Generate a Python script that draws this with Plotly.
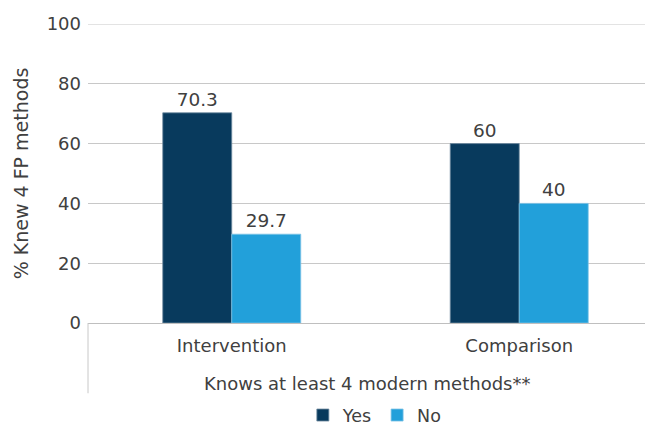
import plotly.graph_objects as go

categories = ["Intervention", "Comparison"]
yes_values = [70.3, 60]
no_values = [29.7, 40]
y_ticks = [0, 20, 40, 60, 80, 100]

text_color = "#404040"
font_family = "DejaVu Sans, Verdana, sans-serif"

fig = go.Figure()
fig.add_trace(go.Bar(
    name="Yes", x=categories, y=yes_values,
    marker=dict(color="#083A5D", line=dict(color="#6F8AA0", width=0.8)),
    text=[f"{v:g}" for v in yes_values], textposition="outside",
    textfont=dict(size=18.5, color=text_color), cliponaxis=False,
))
fig.add_trace(go.Bar(
    name="No", x=categories, y=no_values,
    marker=dict(color="#22A0DA", line=dict(color="#7CC3E6", width=0.8)),
    text=[f"{v:g}" for v in no_values], textposition="outside",
    textfont=dict(size=18.5, color=text_color), cliponaxis=False,
))

fig.update_layout(
    width=652, height=428,
    margin=dict(l=88, r=7, t=24, b=105, autoexpand=False),
    paper_bgcolor="white", plot_bgcolor="white",
    font=dict(family=font_family, color=text_color),
    barmode="group", bargap=0.52, bargroupgap=0,
    showlegend=True,
    legend=dict(orientation="h", x=0.515, xanchor="center", yref="container",
                y=0.03, yanchor="middle", tracegroupgap=0,
                font=dict(size=17.5, color=text_color), itemwidth=30,
                traceorder="normal"),
    xaxis=dict(
        range=[-0.5, 1.4375], showgrid=False, ticks="", automargin=False,
        showline=True, linecolor="#BFBFBF", linewidth=1,
        tickfont=dict(size=18, color=text_color), ticklabelstandoff=6,
    ),
    yaxis=dict(
        range=[0, 100], tickvals=y_ticks, showgrid=True, gridcolor="#C8C8C8",
        gridwidth=1, zeroline=False, showline=False, ticks="", automargin=False,
        tickfont=dict(size=18, color=text_color), ticklabelstandoff=6,
        title=dict(text="% Knew 4 FP methods", font=dict(size=19, color=text_color), standoff=12),
    ),
)

# Top gridline at the edge of the value range
fig.add_shape(
    type="line", xref="paper", yref="y", x0=0, x1=1, y0=100, y1=100,
    line=dict(color="#C8C8C8", width=1), layer="below",
)

# Outer category level beneath the axis
fig.add_annotation(
    text="Knows at least 4 modern methods**", xref="paper", yref="paper",
    x=0.5, y=-0.202, xanchor="center", yanchor="middle", showarrow=False,
    font=dict(size=18, color=text_color),
)
fig.add_shape(
    type="line", xref="paper", yref="paper", x0=0, x1=0, y0=0, y1=-0.235,
    line=dict(color="#C8C8C8", width=1),
)

fig.write_html("out.html")
